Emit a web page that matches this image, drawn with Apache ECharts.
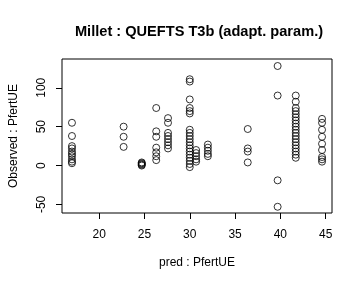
<!DOCTYPE html>
<html><head><meta charset="utf-8">
<script src="https://cdn.jsdelivr.net/npm/echarts@6/dist/echarts.min.js"></script>
<style>html,body{margin:0;padding:0;background:#fff}#c{width:360px;height:288px}</style>
</head><body><div id="c"></div>
<script>
const title = "Millet : QUEFTS T3b (adapt. param.)";
const xName = "pred : PfertUE";
const yName = "Observed : PfertUE";
const xTicks = [20, 25, 30, 35, 40, 45];
const yTicks = [-50, 0, 50, 100];
// predicted value of each group and the observed values in it
const predGroups = [17.0, 22.7, 24.7, 26.3, 27.6, 30.0, 30.7, 32.0, 36.4, 39.7, 41.7, 44.6];
const obs_17_0 = [55, 38, 25, 22, 18, 15, 12, 8, 5, 3];
const obs_22_7 = [50, 37, 24];
const obs_24_7 = [4, 3, 2, 1, 0];
const obs_26_3 = [74, 44, 37, 23, 17, 12, 7];
const obs_27_6 = [61, 55, 42, 38, 34, 30, 26, 22];
const obs_30_0 = [111, 108, 85, 74, 70, 67, 46, 42, 38, 34, 30, 26, 22, 18, 14, 10, 6, 2, -2];
const obs_30_7 = [20, 16, 12, 8, 5];
const obs_32_0 = [27, 23, 19, 15, 12];
const obs_36_4 = [47, 22, 18, 4];
const obs_39_7 = [128, 90, -19, -53];
const obs_41_7 = [90, 82, 74, 70, 66, 62, 58, 54, 50, 46, 42, 38, 34, 30, 26, 22, 18, 14, 10];
const obs_44_6 = [60, 55, 46, 37, 28, 20, 11, 8, 5];
const obsGroups = [obs_17_0, obs_22_7, obs_24_7, obs_26_3, obs_27_6, obs_30_0, obs_30_7, obs_32_0, obs_36_4, obs_39_7, obs_41_7, obs_44_6];

const pts = [];
predGroups.forEach((p, i) => obsGroups[i].forEach(v => pts.push([p, v])));

const font = "Liberation Sans, Arial, sans-serif";
const chart = echarts.init(document.getElementById('c'), null, {renderer: 'canvas'});
chart.setOption({
  animation: false,
  title: {text: title, left: 194, top: 19, textAlign: 'center',
    textStyle: {fontFamily: font, fontSize: 14.6, fontWeight: 'bold', color: '#000'}},
  grid: {left: 59, right: 28, top: 59, bottom: 75, show: true, borderColor: '#000', borderWidth: 1, backgroundColor: 'transparent'},
  xAxis: {type: 'value', min: 15.9, max: 45.7,
    name: xName, nameLocation: 'middle', nameGap: 44,
    nameTextStyle: {fontFamily: font, fontSize: 12, color: '#000'},
    axisLine: {show: false, onZero: false}, splitLine: {show: false},
    axisTick: {show: true, inside: false, length: 6, customValues: xTicks, lineStyle: {color: '#000'}},
    axisLabel: {customValues: xTicks, margin: 16, fontFamily: font, fontSize: 12, color: '#000'}},
  yAxis: {type: 'value', min: -61, max: 137,
    name: yName, nameLocation: 'middle', nameGap: 42, nameRotate: 90,
    nameTextStyle: {fontFamily: font, fontSize: 12, color: '#000'},
    axisLine: {show: false, onZero: false}, splitLine: {show: false},
    axisTick: {show: true, inside: false, length: 6, customValues: yTicks, lineStyle: {color: '#000'}},
    axisLabel: {customValues: yTicks, rotate: 90, margin: 14, fontFamily: font, fontSize: 12, color: '#000'}},
  series: [{type: 'scatter', data: pts, symbol: 'circle', symbolSize: 7,
    itemStyle: {color: 'rgba(0,0,0,0)', borderColor: '#000', borderWidth: 1}}]
});
</script></body></html>
